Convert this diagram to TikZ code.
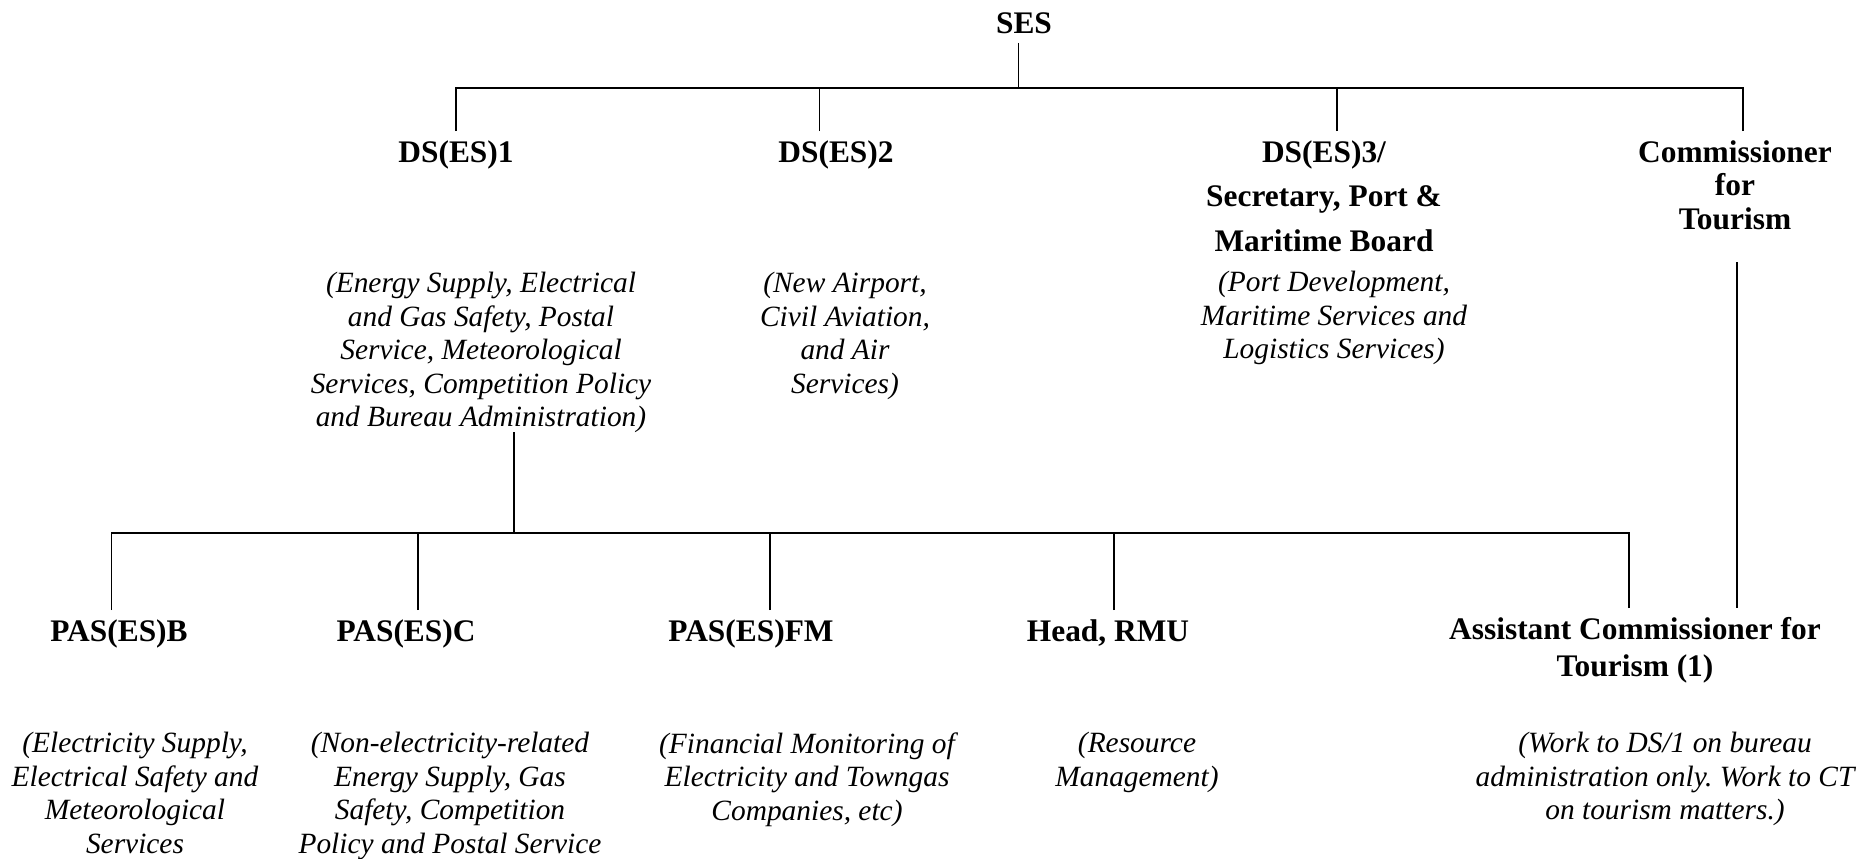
\documentclass[tikz,border=0pt]{standalone}
\usepackage{fontspec}
\setmainfont{Liberation Serif}
\frenchspacing
\begin{document}
\begin{tikzpicture}[x=0.5pt,y=-0.5pt,
  head/.style={anchor=north,inner xsep=0pt,inner ysep=4.5pt,align=center,font=\fontsize{15.7}{16.75}\selectfont\bfseries},
  desc/.style={anchor=north,inner xsep=0pt,inner ysep=2pt,align=center,font=\fontsize{14.7}{16.75}\selectfont\itshape},
  conn/.style={line width=0.9pt}]
\fill[white] (0,0) rectangle (1874,858);
\useasboundingbox (0,0) rectangle (1874,858);
% top level
\node[head] (ses) at (1024,3) {SES};
\node[head] (ds1) at (456,131) {DS(ES)1};
\node[head] (ds2) at (836,131) {DS(ES)2};
\node[head,font=\fontsize{15.7}{22.3}\selectfont\bfseries] (ds3) at (1324,131) {DS(ES)3/\\Secretary, Port \&\\Maritime Board};
\node[head] (ct) at (1735,131) {Commissioner\\for\\Tourism};
\node[desc] (ds1d) at (481,268) {(Energy Supply, Electrical\\and Gas Safety, Postal\\Service, Meteorological\\Services, Competition Policy\\and Bureau Administration)};
\node[desc] (ds2d) at (845,268) {(New Airport,\\Civil Aviation,\\and Air\\Services)};
\node[desc] (ds3d) at (1334,267) {(Port Development,\\Maritime Services and\\Logistics Services)};
% second level
\node[head] (pasb) at (119,610) {PAS(ES)B};
\node[head] (pasc) at (406,610) {PAS(ES)C};
\node[head] (pasfm) at (751,610) {PAS(ES)FM};
\node[head] (rmu) at (1108,610) {Head, RMU};
\node[head,font=\fontsize{15.7}{18.5}\selectfont\bfseries] (act) at (1635,608) {Assistant Commissioner for\\Tourism (1)};
\node[desc] (pasbd) at (135,728) {(Electricity Supply,\\Electrical Safety and\\Meteorological\\Services};
\node[desc] (pascd) at (450,728) {(Non-electricity-related\\Energy Supply, Gas\\Safety, Competition\\Policy and Postal Service};
\node[desc] (pasfmd) at (807,728) {(Financial Monitoring of\\Electricity and Towngas\\Companies, etc)};
\node[desc] (rmud) at (1137,728) {(Resource\\Management)};
\node[desc] (actd) at (1665,728) {(Work to DS/1 on bureau\\administration only. Work to CT\\on tourism matters.)};
% junctions
\coordinate (b1) at (1018.5,88);
\coordinate (b2) at (514,533);
\coordinate (ctl) at (1737,262);
% connectors
\draw[conn] (ses.south -| b1) -- (b1);
\draw[conn] (ds1.north) |- (b1);
\draw[conn] ([xshift=-8.25pt]ds2.north) -- ([xshift=-8.25pt]ds2.north |- b1);
\draw[conn] ([xshift=6.5pt]ds3.north) |- (b1);
\draw[conn] ([xshift=4pt]ct.north) |- (b1);
\draw[conn] ([xshift=16.5pt,yshift=2.5pt]ds1d.south) -- (b2);
\draw[conn] ([xshift=-3.75pt]pasb.north) |- (b2);
\draw[conn] ([xshift=6pt]pasc.north) |- (b2);
\draw[conn] ([xshift=9.5pt]pasfm.north) |- (b2);
\draw[conn] ([xshift=3pt]rmu.north) |- (b2);
\draw[conn] ([xshift=-3pt]act.north) |- (b2);
\draw[line width=1.2pt] (ctl) -- (ctl |- act.north);
\end{tikzpicture}
\end{document}
